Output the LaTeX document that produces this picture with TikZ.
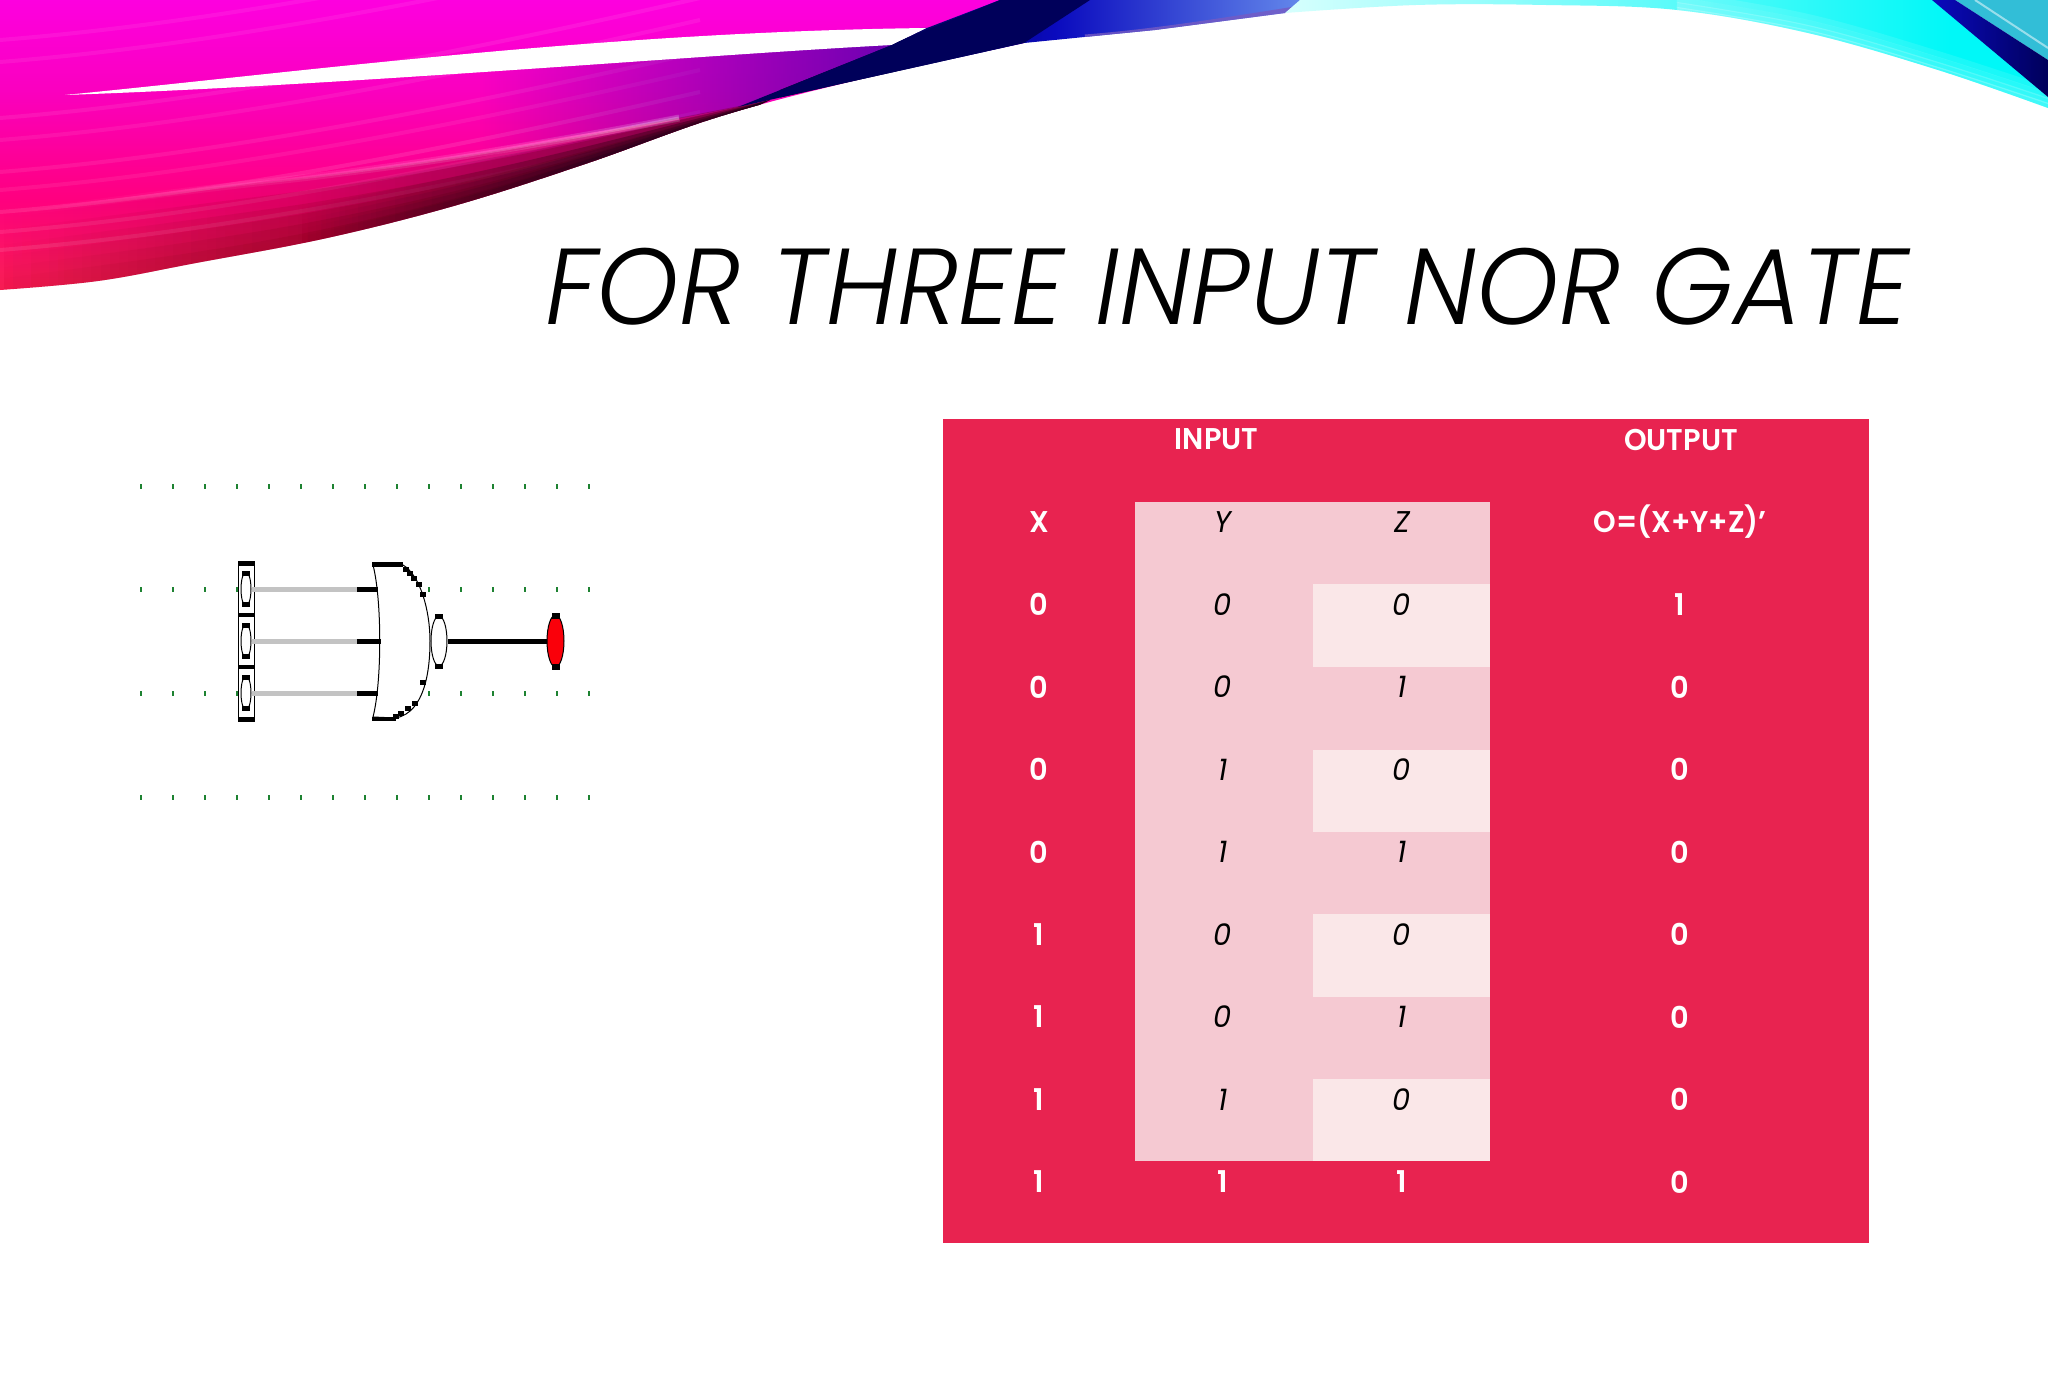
\documentclass[tikz,border=0pt]{standalone}
\usepackage{fontspec}
\setmainfont{Poppins}
\newfontfamily\titlefont{Poppins}[UprightFont=* Light,ItalicFont=* Light Italic]
\newfontfamily\cellfont{Poppins}[UprightFont=*,ItalicFont=* Italic,BoldFont=* SemiBold]
\usetikzlibrary{fadings,shapes.geometric}
\definecolor{tablered}{RGB}{232,35,80}
\definecolor{bandpink}{RGB}{245,201,210}
\definecolor{bandpale}{RGB}{250,231,232}
\definecolor{tickgreen}{RGB}{30,130,50}
\definecolor{wiregray}{RGB}{195,195,195}
\definecolor{ledred}{RGB}{250,0,10}
\definecolor{dkred}{RGB}{110,0,10}
\definecolor{dkend}{RGB}{15,0,30}
\definecolor{dkpurple}{RGB}{70,0,170}
\definecolor{navy}{RGB}{0,0,90}
\definecolor{midblue}{RGB}{10,10,190}
\definecolor{skyblue}{RGB}{110,150,240}
\definecolor{palecyan}{RGB}{215,255,253}
\definecolor{fullcyan}{RGB}{0,248,248}
\definecolor{teal2}{RGB}{50,190,215}
\pgfdeclareverticalshading{swv}{100bp}{
 rgb(0bp)=(.72,.06,.10);
 rgb(8bp)=(.82,.10,.14);
 rgb(18bp)=(.92,.14,.22);
 rgb(30bp)=(.98,.10,.36);
 rgb(42bp)=(1,0,.50);
 rgb(60bp)=(.98,0,.75);
 rgb(83bp)=(1,0,.94);
 rgb(100bp)=(1,0,1)}
\tikzfading[name=fadeL,left color=transparent!100,right color=transparent!0]
\tikzset{
 celltext/.style={font=\cellfont\fontsize{30}{32}\selectfont,anchor=center,inner sep=0pt,xscale=.96},
 boldcell/.style={celltext,text=white,font=\cellfont\bfseries\fontsize{30}{32}\selectfont},
 darkcell/.style={celltext,text=black,font=\cellfont\itshape\fontsize{30}{32}\selectfont},
 tickmark/.style={tickgreen,line width=2pt},
 graywire/.style={wiregray,line width=5pt},
 blackwire/.style={black,line width=5pt},
 swatch/.style={draw=black,fill=white,ellipse,inner sep=0pt,line width=1pt},
 capblock/.style={fill=black},
}
\begin{document}
\begin{tikzpicture}[x=1pt,y=-1pt]
\useasboundingbox (0,0) rectangle (2048,1397);
\fill[white] (0,0) rectangle (2048,1397);
% ---- magenta swoosh
\begin{scope}
\clip (0,0) -- (1024,0) -- (1024,43) -- plot[smooth,tension=.6] coordinates {(1024,43)(849,82)(718,117)(588,163)(457,205)(327,238)(196,263)(98,281)(0,290)} -- cycle;
\shade[shading=swv] (0,0) rectangle (1024,300);
\foreach \yy/\oo in {40/.07,62/.07,118/.08,140/.07,172/.08,190/.07,212/.10,232/.09,250/.10}
  \draw[white,opacity=\oo,line width=4pt] (0,\yy) .. controls (150,\yy-12) and (350,\yy-40) .. (700,\yy-120);
\fill[dkpurple,path fading=fadeL] (480,60) -- (920,28) -- (1010,28) -- (920,60) -- (738,107) -- (673,120) -- (480,150) -- cycle;
\foreach \f in {.15,.3,.45,.6,.8,1}
  \fill[dkred,opacity=.34,path fading=fadeL] plot[smooth,tension=.6] coordinates {(0,295)(98,286)(196,268)(327,243)(457,210)(588,168)(718,122)(770,100)} -- plot[smooth,tension=.6] coordinates {(770,100)(588,163-28*\f)(457,205-48*\f)(327,238-63*\f)(196,263-73*\f)(0,290-75*\f)} -- cycle;
\foreach \f in {.12,.25,.4,.6,.85}
  \fill[dkend,opacity=.3,path fading=fadeL] plot[smooth,tension=.6] coordinates {(300,250)(457,210)(588,168)(718,122)(770,100)} -- plot[smooth,tension=.6] coordinates {(770,100)(588,163-28*\f)(457,205-48*\f)(300,244-60*\f)} -- cycle;
\foreach \ww/\oo in {7/.18,3/.25}
  \draw[white,opacity=\oo,line width=\ww pt,path fading=fadeL] plot[smooth,tension=.6] coordinates {(0,215)(196,190)(327,175)(457,157)(588,135)(680,118)};
\fill[white] (65,95) .. controls (300,72) and (600,32) .. (927,28) -- (892,45) .. controls (700,55) and (350,85) .. (65,95) -- cycle;
\end{scope}
% ---- blue blade
\begin{scope}
\clip (738,107) -- (892,45) -- (927,28) -- (1000,0) -- (1320,0) -- (1285,13) -- (1155,30) -- (1024,43) -- (849,82) -- cycle;
\shade[left color=black!90!navy,right color=skyblue,middle color=midblue] (780,0) rectangle (1330,110);
\fill[navy] (738,107) -- (1000,0) -- (1090,0) -- (1024,43) -- (849,82) -- cycle;
\draw[skyblue!60!violet,line width=7pt,opacity=.8] (1085,38) .. controls (1150,33) and (1220,22) .. (1295,10);
\end{scope}
% ---- cyan swoosh
\begin{scope}
\clip (1285,13) -- (1300,0) -- (1940,0) -- (2048,97) -- (2048,108) -- plot[smooth,tension=.6] coordinates {(2048,108)(1938,70)(1808,33)(1677,10)(1546,5)(1416,5)(1285,13)} -- cycle;
\shade[left color=palecyan,right color=fullcyan] (1285,0) rectangle (1950,110);
\fill[fullcyan] (1950,0) rectangle (2048,110);
\foreach \dd/\oo in {0/.25,5/.2,10/.15,16/.1}
\draw[white,opacity=\oo,line width=6pt] plot[smooth,tension=.6] coordinates {(2060,110-\dd)(1938,70-\dd)(1808,33-\dd)(1677,10-\dd)};
\end{scope}
\fill[teal2] (1955,0) -- (2048,0) -- (2048,60) -- cycle;
\draw[white,opacity=.5,line width=2pt] (1975,0) -- (2048,48);
\shade[left color=midblue,right color=navy] (1932,0) -- (1955,0) -- (2048,60) -- (2048,97) -- cycle;
% ---- title
\node[anchor=base,inner sep=0pt,xscale=.97] (title) at (1227,324) {\titlefont\itshape\fontsize{108}{120}\selectfont FOR THREE INPUT NOR GATE};
% ---- table
\fill[tablered] (943,419) rectangle (1869,1243);
\fill[bandpink] (1135,501.5) rectangle (1490,1161);
\foreach \ya/\yb in {584/666.5,749.5/832,914/996.5,1079/1161}
  \fill[bandpale] (1312.5,\ya) rectangle (1490,\yb);
\node[boldcell] (hinput) at (1216.5,439.5) {INPUT};
\node[boldcell] (houtput) at (1681,439.5) {OUTPUT};
\node[boldcell] (hx) at (1039,522) {X};
\node[darkcell] (hy) at (1223,522) {Y};
\node[darkcell] (hz) at (1402,522) {Z};
\node[boldcell] (ho) at (1680,522) {O=(X+Y+Z)’};
\foreach \n/\rr/\a/\b/\c/\o in {1/604.5/0/0/0/1,2/687/0/0/1/0,3/769.5/0/1/0/0,4/852/0/1/1/0,5/934.5/1/0/0/0,6/1017/1/0/1/0,7/1099.5/1/1/0/0}{
  \node[boldcell] (x\n) at (1039,\rr) {\a};
  \node[darkcell] (y\n) at (1223,\rr) {\b};
  \node[darkcell] (z\n) at (1402,\rr) {\c};
  \node[boldcell] (o\n) at (1680,\rr) {\o};
}
\node[boldcell] (x8) at (1039,1182) {1};
\node[boldcell] (y8) at (1223,1182) {1};
\node[boldcell] (z8) at (1402,1182) {1};
\node[boldcell] (o8) at (1680,1182) {0};
% ---- grid ticks
\foreach \i in {0,...,14}{
  \draw[tickmark] (141+32*\i,484) -- (141+32*\i,488.5);
  \draw[tickmark] (141+32*\i,795) -- (141+32*\i,799.5);
}
\foreach \i in {0,1,2,3,9,10,11,12,13,14}{
  \draw[tickmark] (141+32*\i,587) -- (141+32*\i,591.5);
  \draw[tickmark] (141+32*\i,691) -- (141+32*\i,695.5);
}
% ---- switch
\draw[black,line width=1.5pt,fill=white] (238.5,562) rectangle (254.5,721);
\fill[black] (238,562) rectangle (255,566);
\fill[black] (238,613) rectangle (255,617);
\fill[black] (238,665) rectangle (255,669);
\fill[black] (238,717) rectangle (255,721);
\foreach \n/\yy in {1/589,2/641,3/693}{
  \node[swatch,minimum height=34pt,minimum width=10pt] (s\n) at (246,\yy) {};
  \fill[capblock] (242,\yy-18) rectangle (250,\yy-13);
  \fill[capblock] (242,\yy+13) rectangle (250,\yy+18);
  \coordinate (p\n) at (357,\yy);
}
% ---- gate
\coordinate (g1) at (378,589);
\coordinate (g2) at (381,641);
\coordinate (g3) at (378,693);
\draw[black,line width=1pt,fill=white] (373,565) .. controls (382,600) and (382,682) .. (373,717) -- (396,718) .. controls (425,712) and (430,670) .. (430,641) .. controls (430,610) and (420,575) .. (403,565) -- cycle;
\fill[black] (372,562) rectangle (403,566.5);
\fill[black] (372,716.5) rectangle (396,721);
\foreach \xx/\yy in {406/569,410/573,414/578,419/584,423/594,423/682,415/703,408/708,401/713,396/716}
  \fill[black] (\xx-3,\yy-2.5) rectangle (\xx+3,\yy+2.5);
\foreach \n in {1,2,3}{
  \draw[graywire] (s\n.east) -- (p\n);
  \draw[blackwire] (p\n) -- (g\n);
}
% ---- bubble, output
\node[swatch,minimum width=16pt,minimum height=50pt] (bub) at (439,641) {};
\fill[black] (435,613.5) rectangle (443,618.5);
\fill[black] (435,664) rectangle (443,669);
\node[draw=black,fill=ledred,ellipse,minimum width=17pt,minimum height=52pt,inner sep=0pt,line width=1pt] (led) at (555.5,641) {};
\fill[black] (551.5,613) rectangle (559.5,618.5);
\fill[black] (551.5,664) rectangle (559.5,669.5);
\draw[blackwire] (bub.east) -- (led.west);
\end{tikzpicture}
\end{document}
